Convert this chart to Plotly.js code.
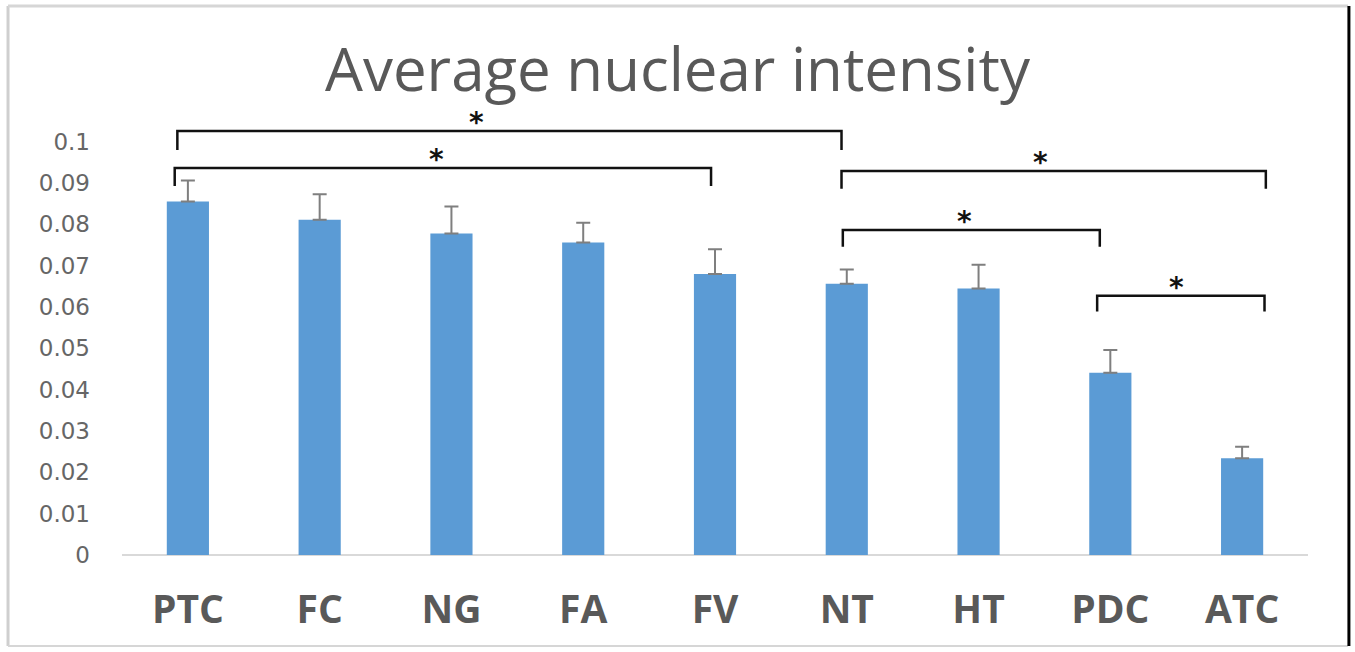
<!DOCTYPE html>
<html>
<head>
<meta charset="utf-8">
<script src="https://cdn.plot.ly/plotly-3.0.1.min.js"></script>
<style>
html,body{margin:0;padding:0;background:#fff;}
#chart{width:1355px;height:652px;}
</style>
</head>
<body>
<div id="chart"></div>
<script>
// Data
const categories = ["PTC", "FC", "NG", "FA", "FV", "NT", "HT", "PDC", "ATC"];
const values = [0.0855, 0.0811, 0.0778, 0.0756, 0.0680, 0.0656, 0.0645, 0.0441, 0.0234];
const errors = [0.0051, 0.0062, 0.0065, 0.0048, 0.0060, 0.0035, 0.0057, 0.0055, 0.0028];
const yTicks = [0, 0.01, 0.02, 0.03, 0.04, 0.05, 0.06, 0.07, 0.08, 0.09, 0.1];
const yTickText = ["0", "0.01", "0.02", "0.03", "0.04", "0.05", "0.06", "0.07", "0.08", "0.09", "0.1"];
// significance brackets: from category, to category, bar height, leg bottom
const bracketFrom = ["PTC", "PTC", "NT", "NT", "PDC"];
const bracketTo = ["NT", "FV", "ATC", "PDC", "ATC"];
const bracketY = [0.1026, 0.0936, 0.0929, 0.0786, 0.0627];
const bracketLeg = [0.0980, 0.0893, 0.0886, 0.0746, 0.0589];
const bracketLabel = ["*", "*", "*", "*", "*"];

const idx = c => categories.indexOf(c);
const leftOff = [-0.08, -0.1, -0.04, -0.03, -0.1];
const rightOff = [-0.04, -0.03, 0.18, -0.08, 0.17];
const starOff = [-0.25, -0.05, -0.1, -0.05, -0.03];

const shapes = [];
const annotations = [];
for (let i = 0; i < bracketFrom.length; i++) {
  const x0 = idx(bracketFrom[i]) + leftOff[i];
  const x1 = idx(bracketTo[i]) + rightOff[i];
  shapes.push({
    type: "path", xref: "x", yref: "y",
    path: `M ${x0} ${bracketLeg[i]} L ${x0} ${bracketY[i]} L ${x1} ${bracketY[i]} L ${x1} ${bracketLeg[i]}`,
    line: {color: "#111", width: 2.5}
  });
  annotations.push({
    x: (x0 + x1) / 2 + starOff[i], y: bracketY[i], xref: "x", yref: "y",
    text: bracketLabel[i], showarrow: false, yanchor: "bottom", yshift: -10,
    font: {family: "DejaVu Sans", size: 28, color: "#111", weight: "bold"}
  });
}
// outer frame
shapes.push({type: "line", xref: "paper", yref: "paper", x0: -0.0961, x1: -0.0961, y0: -0.2097, y1: 1.265, line: {color: "#cfcfcf", width: 3}});
shapes.push({type: "line", xref: "paper", yref: "paper", x0: -0.0961, x1: 1.0337, y0: 1.265, y1: 1.265, line: {color: "#d6d6d6", width: 3}});
shapes.push({type: "line", xref: "paper", yref: "paper", x0: -0.0961, x1: 1.0337, y0: -0.2097, y1: -0.2097, line: {color: "#d6d6d6", width: 2}});
shapes.push({type: "line", xref: "paper", yref: "paper", x0: 1.0345, x1: 1.0345, y0: -0.2097, y1: 1.265, line: {color: "#000", width: 3}});

const trace = {
  type: "bar",
  x: categories.map((c, i) => i),
  y: values,
  marker: {color: "#5b9bd5"},
  error_y: {type: "data", symmetric: false, array: errors, arrayminus: errors.map(() => 0), visible: true, color: "#7f7f7f", thickness: 2, width: 7},
  cliponaxis: false,
  hoverinfo: "skip"
};

const layout = {
  width: 1355, height: 652,
  margin: {l: 122, r: 47, t: 121, b: 97},
  paper_bgcolor: "#fff", plot_bgcolor: "#fff",
  showlegend: false,
  bargap: 0.68,
  title: {
    text: "Average nuclear intensity",
    font: {family: "Open Sans", size: 60, color: "#595959"},
    x: 0.5, xref: "container", xanchor: "center",
    y: 0.893, yref: "container", yanchor: "middle"
  },
  xaxis: {
    type: "linear", range: [-0.5, 8.5],
    tickvals: categories.map((c, i) => i), ticktext: categories,
    tickfont: {family: "Open Sans", size: 39, color: "#595959", weight: "bold"},
    showgrid: false, zeroline: false, showline: false, ticks: "",
    ticklabelstandoff: 28
  },
  yaxis: {
    range: [0, 0.105], tickvals: yTicks, ticktext: yTickText,
    tickfont: {family: "DejaVu Sans", size: 23, color: "#666666"},
    showgrid: false, zeroline: true, zerolinecolor: "#d9d9d9", zerolinewidth: 2,
    showline: false, ticks: "", ticklabelstandoff: 31
  },
  shapes: shapes,
  annotations: annotations
};

Plotly.newPlot("chart", [trace], layout, {displayModeBar: false, staticPlot: true});
</script>
</body>
</html>
